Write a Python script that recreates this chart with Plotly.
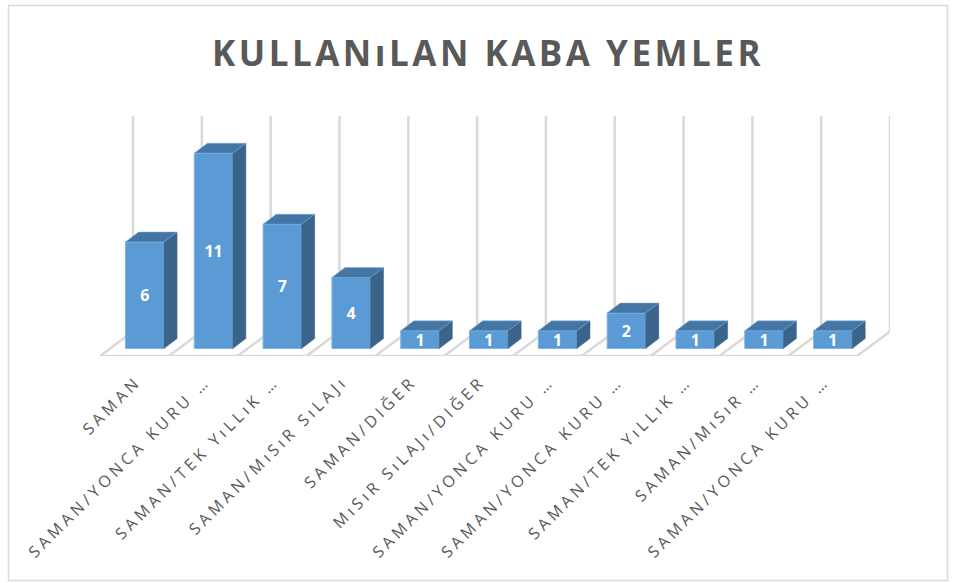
import plotly.graph_objects as go

TITLE = "KULLANıLAN KABA YEMLER"
categories = [
    "SAMAN",
    "SAMAN/YONCA KURU …",
    "SAMAN/TEK YıLLıK …",
    "SAMAN/MıSıR SıLAJı",
    "SAMAN/DIĞER",
    "MıSıR SıLAJı/DIĞER",
    "SAMAN/YONCA KURU …",
    "SAMAN/YONCA KURU …",
    "SAMAN/TEK YıLLıK …",
    "SAMAN/MıSıR …",
    "SAMAN/YONCA KURU …",
]
values = [6, 11, 7, 4, 1, 1, 1, 2, 1, 1, 1]

FRONT = "#5B9BD5"
EDGE = "#7FB1E0"
SIDE = "#3B648A"
TOP = "#4476A5"
GRID = "#D9D9D9"
TEXT = "#595959"

W, H = 961, 583
L, R, T, B = 100, 71, 116, 227
X_RANGE = [-0.65, 10.83]
Y_RANGE = [-0.42, 13.09]

BAR_W = 0.56
DX, DY = 0.19, 0.56          # depth of one bar in axis units
FLOOR_DX, FLOOR_BACK = 0.48, 0.955

fig = go.Figure()
xs = list(range(len(values)))

fig.add_trace(go.Bar(
    x=xs, y=values, base=0, width=BAR_W,
    marker=dict(color=FRONT, line=dict(color=EDGE, width=1)),
    text=[str(v) for v in values], textposition="inside",
    insidetextanchor="middle", constraintext="none", textangle=0,
    textfont=dict(family="Open Sans", size=16, color="white", weight="bold"),
    hoverinfo="skip", showlegend=False,
))

hw = BAR_W / 2
for x, v in zip(xs, values):
    fig.add_trace(go.Scatter(
        x=[x + hw, x + hw + DX, x + hw + DX, x + hw, x + hw],
        y=[0, DY, v + DY, v, 0],
        mode="lines", fill="toself", fillcolor=SIDE,
        line=dict(color=SIDE, width=0.5), hoverinfo="skip", showlegend=False,
    ))
    fig.add_trace(go.Scatter(
        x=[x - hw, x - hw + DX, x + hw + DX, x + hw, x - hw],
        y=[v, v + DY, v + DY, v, v],
        mode="lines", fill="toself", fillcolor=TOP,
        line=dict(color=EDGE, width=0.5), hoverinfo="skip", showlegend=False,
    ))

# floor and back-wall lines, below the marks
shapes = []
line = dict(color=GRID, width=2.5)
front_left = X_RANGE[0]
for k in range(len(values) + 1):
    xf = front_left + k
    xb = xf + FLOOR_DX
    shapes.append(dict(type="line", xref="x", yref="y", x0=xf, y0=Y_RANGE[0], x1=xb, y1=FLOOR_BACK, line=line, layer="below"))
    shapes.append(dict(type="line", xref="x", yref="y", x0=xb, y0=FLOOR_BACK, x1=xb, y1=Y_RANGE[1], line=line, layer="below"))
shapes.append(dict(type="line", xref="x", yref="y", x0=front_left, y0=Y_RANGE[0], x1=front_left + len(values), y1=Y_RANGE[0], line=line, layer="below"))

# outer chart frame
px = lambda p: (p - L) / (W - L - R)
py = lambda p: 1 - (p - T) / (H - T - B)
shapes.append(dict(type="rect", xref="paper", yref="paper", x0=px(8.5), x1=px(947.5), y0=py(580.5), y1=py(5.5),
                   line=dict(color=GRID, width=1.5), layer="below"))

fig.update_layout(
    width=W, height=H,
    margin=dict(l=L, r=R, t=T, b=B),
    paper_bgcolor="white", plot_bgcolor="white",
    barmode="overlay",
    shapes=shapes,
    title=dict(text=TITLE, x=488 / W, xanchor="center", y=1 - 54 / H, yanchor="middle",
               font=dict(family="Open Sans", size=35, color=TEXT, weight="bold")),
    xaxis=dict(range=X_RANGE, tickmode="array", tickvals=xs, ticktext=categories, tickangle=-45,
               showgrid=False, zeroline=False, showline=False, ticks="",
               ticklabelstandoff=12, ticklabelshift=-8,
               tickfont=dict(family="Open Sans", size=16, color=TEXT)),
    yaxis=dict(range=Y_RANGE, showticklabels=False, showgrid=False, zeroline=False, showline=False, ticks=""),
)

post = """
document.body.style.margin = '0';
document.body.style.overflow = 'hidden';
document.querySelectorAll('.gtitle').forEach(function (n) { n.style.letterSpacing = '3.5px'; });
document.querySelectorAll('.xtick text').forEach(function (n) { n.style.letterSpacing = '3.9px'; });
"""
fig.write_html("out.html", post_script=post, config=dict(displayModeBar=False))
